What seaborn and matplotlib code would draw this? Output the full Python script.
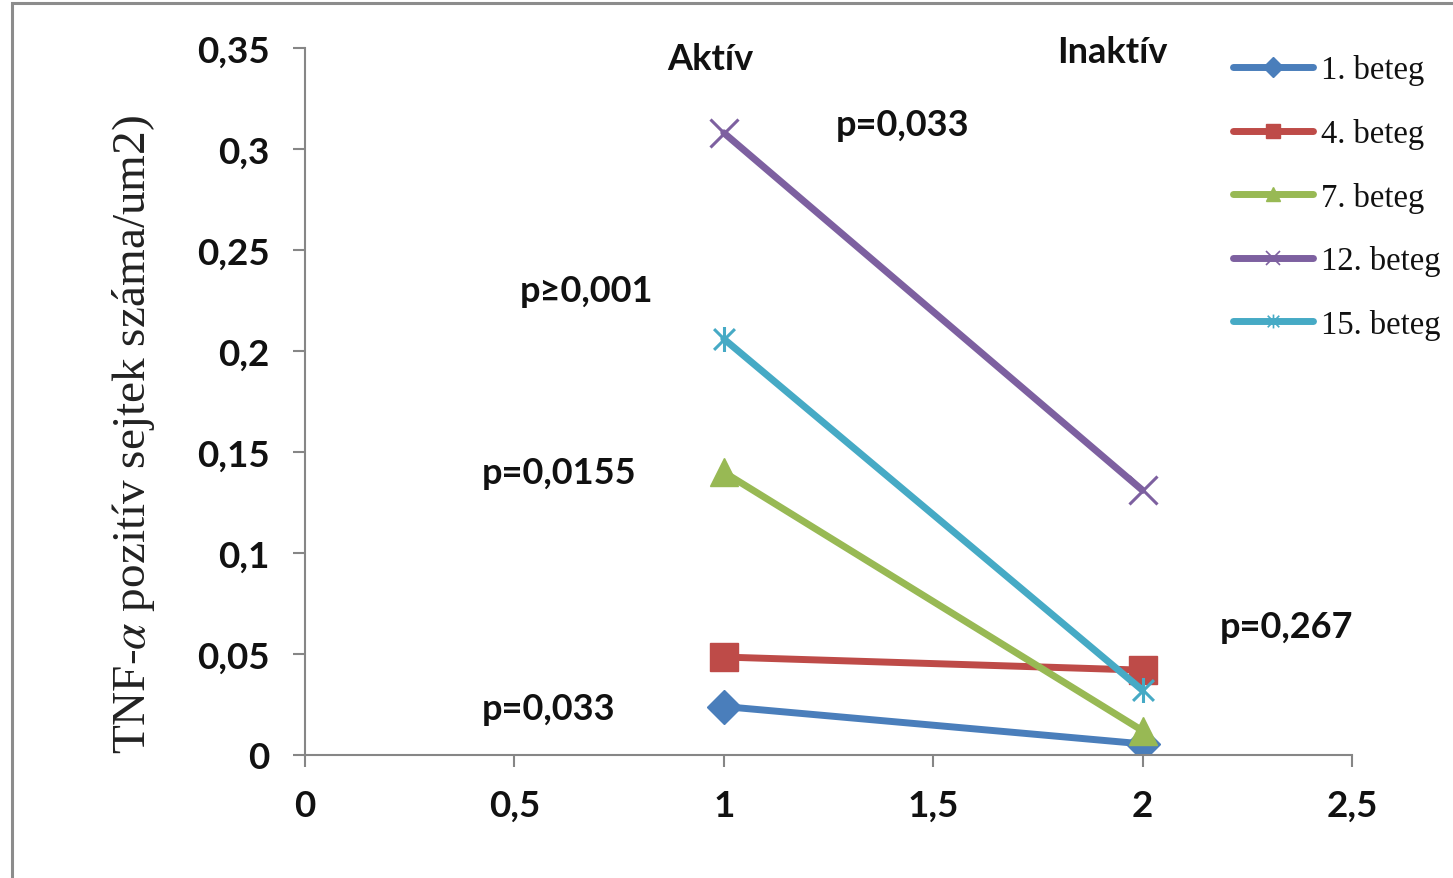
import numpy as np
import pandas as pd
import matplotlib
matplotlib.use("Agg")
import matplotlib.pyplot as plt
from matplotlib.path import Path
from matplotlib.lines import Line2D
from matplotlib.patches import Rectangle
import seaborn as sns

# ---- data ----
x_vals = [1, 2]
series_names = ["1. beteg", "4. beteg", "7. beteg", "12. beteg", "15. beteg"]
beteg1 = [0.024, 0.0055]
beteg4 = [0.0485, 0.042]
beteg7 = [0.140, 0.012]
beteg12 = [0.308, 0.131]
beteg15 = [0.206, 0.032]
values = [beteg1, beteg4, beteg7, beteg12, beteg15]
colors = ["#4A7EBB", "#BE4B48", "#98B954", "#7D60A0", "#46AAC5"]

yticks = [0, 0.05, 0.1, 0.15, 0.2, 0.25, 0.3, 0.35]
xticks = [0, 0.5, 1, 1.5, 2, 2.5]

annot_texts = ["Aktív", "Inaktív", "p=0,033", "p≥0,001", "p=0,0155", "p=0,033", "p=0,267"]

rows = []
for name, vals in zip(series_names, values):
    for xv, yv in zip(x_vals, vals):
        rows.append({"x": xv, "y": yv, "beteg": name})
df = pd.DataFrame(rows)

sns.set_theme(style="white")
plt.rcParams["font.family"] = ["Lato", "DejaVu Sans"]
plt.rcParams["mathtext.fontset"] = "stix"

fig = plt.figure(figsize=(14.53, 8.79), dpi=100)
ax = fig.add_axes([305/1453, 123/879, 1047/1453, 707/879])

asterisk = Path([(-1, -1), (1, 1), (-1, 1), (1, -1), (0, -1.2), (0, 1.2)],
                [Path.MOVETO, Path.LINETO, Path.MOVETO, Path.LINETO, Path.MOVETO, Path.LINETO])
markers = ["D", "s", "^", "x", asterisk]
msizes = [17, 20, 20, 20, 18]
mews = [1, 1, 1, 2.2, 2.2]

for name, col, mk, ms, mew in zip(series_names, colors, markers, msizes, mews):
    sub = df[df["beteg"] == name]
    sns.lineplot(data=sub, x="x", y="y", ax=ax, color=col, marker=mk,
                 markersize=ms, markeredgecolor=col, markerfacecolor=col,
                 markeredgewidth=mew, linewidth=5, legend=False)

ax.set_xlim(0, 2.5)
ax.set_ylim(0, 0.35)
ax.set_xticks(xticks)
ax.set_yticks(yticks)
fmt = lambda v: f"{v:g}".replace(".", ",")
ax.set_xticklabels([fmt(v) for v in xticks])
ax.set_yticklabels([fmt(v) for v in yticks])
ax.set_xlabel("")
ax.set_ylabel("TNF-$\\alpha$ pozitív sejtek száma/um2)", family="Liberation Serif",
              fontsize=34, color="#222222")
ax.yaxis.set_label_coords(-0.141, 0.455)

for s in ["top", "right"]:
    ax.spines[s].set_visible(False)
for s in ["left", "bottom"]:
    ax.spines[s].set_color("#868686")
    ax.spines[s].set_linewidth(1.5)
ax.tick_params(axis="both", which="major", direction="out", length=8.5, width=1.5,
               color="#868686", labelsize=26.5, labelcolor="#111111")
ax.tick_params(axis="y", pad=17, left=True)
ax.tick_params(axis="x", pad=16, bottom=True)
for lbl in ax.get_xticklabels() + ax.get_yticklabels():
    lbl.set_fontweight("bold")

# annotations
ann_pos = [(0.967, 0.3446, "center"), (1.927, 0.3485, "center"), (1.268, 0.312, "left"),
           (0.513, 0.230, "left"), (0.4226, 0.140, "left"), (0.4226, 0.0228, "left"),
           (2.185, 0.0634, "left")]
for t, (xx, yy, ha) in zip(annot_texts, ann_pos):
    ax.text(xx, yy, t, ha=ha, va="center", fontsize=26, fontweight="bold",
            color="#111111", clip_on=False)

# legend
handles = []
leg_ms = [10, 10, 10, 10, 10]
for name, col, mk, ms, mew in zip(series_names, colors, markers, leg_ms, [1, 1, 1, 1.2, 1.2]):
    handles.append(Line2D([0], [0], color=col, lw=5, marker=mk, markersize=ms,
                          markeredgecolor=col, markerfacecolor=col, markeredgewidth=mew,
                          solid_capstyle="round"))
leg = fig.legend(handles, series_names, loc="upper left",
                 bbox_to_anchor=(1217/1453, 1 - 39/879), frameon=False,
                 prop={"family": "Liberation Serif", "size": 23.5},
                 handlelength=2.45, handletextpad=0.24, labelspacing=1.0, borderpad=0)
for txt in leg.get_texts():
    txt.set_color("#111111")

# figure frame
fig.patches.append(Rectangle((12/1453, -0.1), 1.2, 1 - 4/879 + 0.1, transform=fig.transFigure,
                             fill=False, edgecolor="#8c8c8c", linewidth=2.2, zorder=10))

fig.savefig("out.png", dpi=100)
